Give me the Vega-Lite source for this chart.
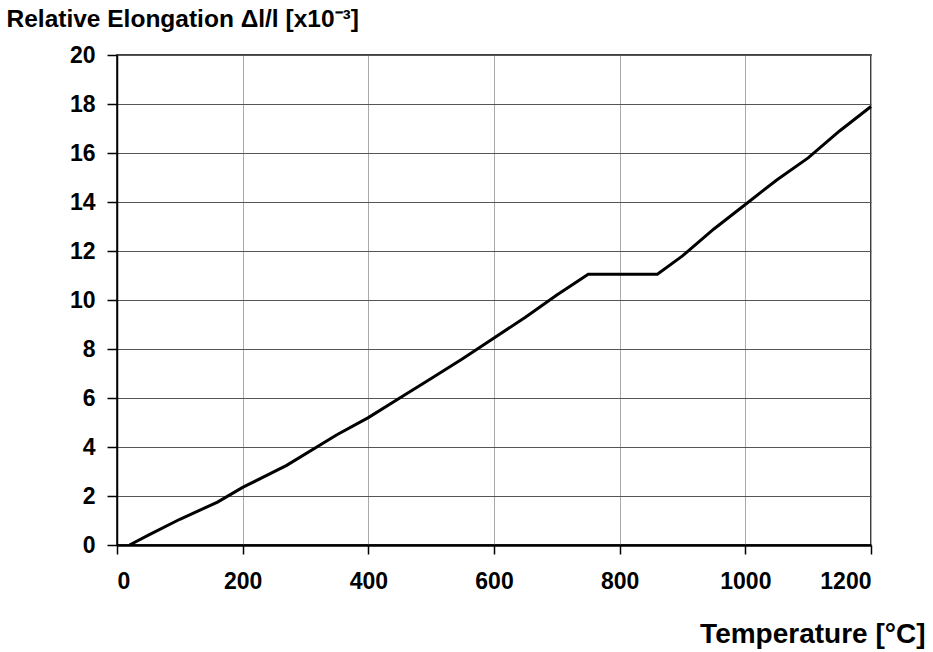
{
  "$schema": "https://vega.github.io/schema/vega-lite/v6.json",
  "width": 754,
  "height": 490,
  "autosize": {"type": "none"},
  "padding": {"left": 117, "top": 55, "right": 62, "bottom": 107},
  "background": "white",
  "config": {
    "view": {"stroke": "black", "strokeWidth": 1.5},
    "font": "Liberation Sans"
  },
  "data": {
    "values": [
      {"t": 20, "e": 0},
      {"t": 50, "e": 0.4},
      {"t": 100, "e": 1.05},
      {"t": 160, "e": 1.75},
      {"t": 200, "e": 2.35},
      {"t": 270, "e": 3.25},
      {"t": 350, "e": 4.5},
      {"t": 400, "e": 5.2},
      {"t": 450, "e": 6.0},
      {"t": 500, "e": 6.8},
      {"t": 550, "e": 7.6},
      {"t": 600, "e": 8.45},
      {"t": 650, "e": 9.3},
      {"t": 700, "e": 10.2},
      {"t": 750, "e": 11.05},
      {"t": 860, "e": 11.05},
      {"t": 900, "e": 11.8},
      {"t": 950, "e": 12.9},
      {"t": 1000, "e": 13.9},
      {"t": 1050, "e": 14.9},
      {"t": 1100, "e": 15.8},
      {"t": 1150, "e": 16.9},
      {"t": 1200, "e": 17.9}
    ]
  },
  "mark": {"type": "line", "color": "black", "strokeWidth": 3},
  "encoding": {
    "x": {
      "field": "t",
      "type": "quantitative",
      "scale": {"domain": [0, 1200], "nice": false},
      "axis": {
        "values": [0, 200, 400, 600, 800, 1000, 1200],
        "format": "d",
        "title": "Temperature [°C]",
        "titleFontSize": 28,
        "titleFontWeight": "bold",
        "titleAlign": "right",
        "titleAnchor": null,
        "titleX": 808,
        "titleY": 97,
        "titleBaseline": "alphabetic",
        "titleColor": "black",
        "labelFontSize": 23,
        "labelFontWeight": "bold",
        "labelColor": "black",
        "labelPadding": 16,
        "tickColor": "black",
        "tickSize": 9,
        "tickWidth": 1.5,
        "domainColor": "black",
        "domainWidth": 2.5,
        "grid": true,
        "gridColor": "#aaaaaa",
        "gridWidth": 1
      }
    },
    "y": {
      "field": "e",
      "type": "quantitative",
      "scale": {"domain": [0, 20], "nice": false},
      "axis": {
        "values": [0, 2, 4, 6, 8, 10, 12, 14, 16, 18, 20],
        "title": "Relative Elongation Δl/l [x10⁻³]",
        "titleFontSize": 24.5,
        "titleFontWeight": "bold",
        "titleAngle": 0,
        "titleAlign": "left",
        "titleAnchor": null,
        "titleX": -111,
        "titleY": -29,
        "titleBaseline": "alphabetic",
        "titleColor": "black",
        "labelFontSize": 23,
        "labelFontWeight": "bold",
        "labelColor": "black",
        "labelPadding": 12,
        "tickColor": "black",
        "tickSize": 10,
        "tickWidth": 1.5,
        "domainColor": "black",
        "domainWidth": 1.5,
        "grid": true,
        "gridColor": "#555555",
        "gridWidth": 1
      }
    }
  }
}
